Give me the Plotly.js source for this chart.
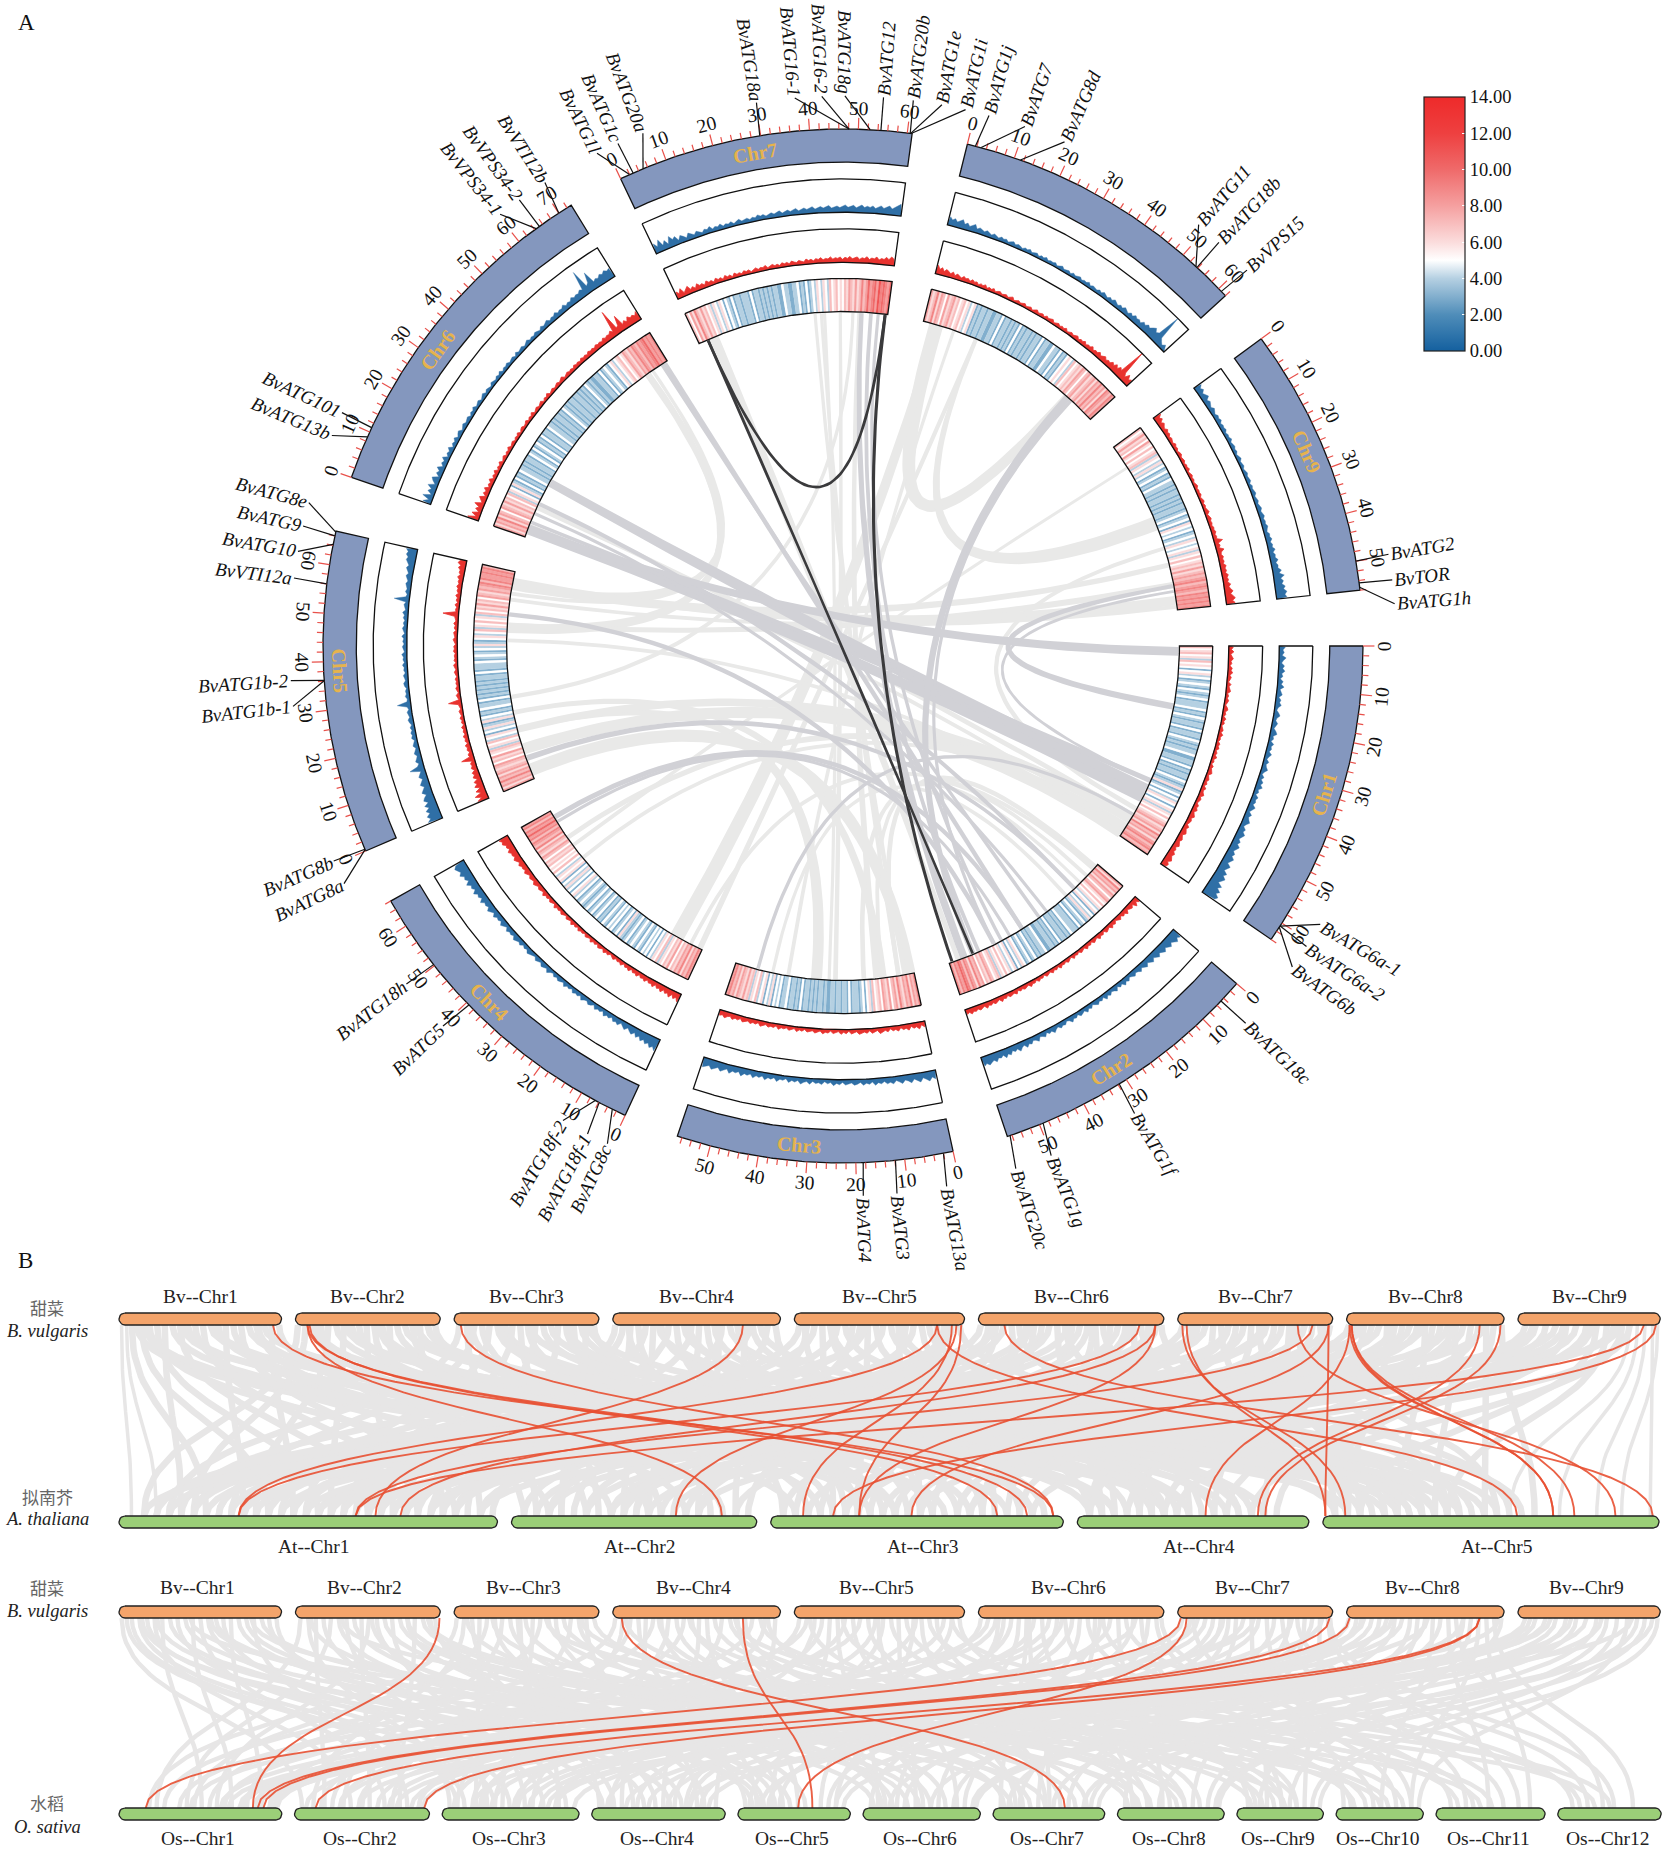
<!DOCTYPE html>
<html><head><meta charset="utf-8">
<script src="https://cdn.plot.ly/plotly-3.0.1.min.js"></script>
<style>html,body{margin:0;padding:0;background:#fff}</style></head>
<body><div id="chart" style="width:1666px;height:1851px"></div>
<script>
// ---------- DATA ----------
const bvLengths=[64,57,57,66,67,73,61,62,56];
const atLengths=[30.4,19.7,23.5,18.6,27];
const osLengths=[43.3,35.9,36.4,35.5,29.9,31.2,29.7,28.4,23,23.2,29,27.5];
const chrLabelPos=[32,31.5,31.9,37,38,32,28.3,null,25];

const heatChr1=[7,5,6,7,5,6,4,7,5,6,5,3,5,6,4,5,3,4,5,4,3,5,4,3,4,5,3,4,4,4,5,3,4,3,5,4,3,4,4,3,5,3,4,4,3,5,4,3,4,3,4,4,5,3,3,4,4,3,5,3,4,3,4,4,3,5,4,3,4,6,3,4,5,3,5,4,6,5,3,5,6,4,6,5,7,5,6,7,8,6,7,8,6,9,7,8,6,8,9,7,8,9,7,8];
const heatChr2=[8,6,9,7,8,6,8,7,5,7,8,6,5,7,5,6,4,5,6,3,5,4,6,4,3,5,4,3,5,3,4,4,4,5,3,4,3,4,4,3,5,3,4,3,4,4,3,3,5,4,4,3,4,3,5,4,3,5,4,3,5,6,4,5,3,6,5,4,6,5,7,5,6,4,7,6,5,7,8,6,7,5,8,7,9,6,8,9,7,9,10,8,9,7,9];
const heatChr3=[9,7,8,6,9,7,8,6,7,9,6,8,7,5,8,6,7,8,5,7,6,5,7,4,6,5,3,5,4,3,4,4,4,3,5,3,4,4,3,4,4,3,4,4,3,3,4,3,4,4,3,4,3,4,3,4,4,3,5,3,4,3,4,4,3,5,4,4,3,5,4,5,3,6,4,5,3,6,5,4,7,5,6,4,7,6,8,6,7,8,6,8,7,9,8];
const heatChr4=[8,9,7,8,6,9,7,8,6,7,5,8,6,7,5,6,4,7,5,6,4,5,3,5,4,5,3,4,5,3,4,5,4,3,5,4,3,4,6,3,5,4,3,5,4,5,3,4,5,3,4,3,5,4,3,5,4,3,5,4,3,4,5,4,3,5,4,6,5,3,5,4,6,4,5,3,6,5,6,4,5,7,5,6,5,7,6,7,5,7,8,6,7,8,6,9,7,8,9,7,9,8,10,8,9,7,9,8];
const heatChr5=[8,6,8,7,9,7,8,6,8,7,6,7,8,5,7,6,8,5,6,7,4,6,5,7,4,5,6,3,5,4,6,4,3,6,4,5,3,4,3,5,4,4,3,5,3,4,3,4,3,4,3,4,3,4,4,3,5,3,4,4,4,5,3,4,5,4,3,5,4,6,4,3,5,6,4,5,7,4,6,5,7,5,6,4,7,5,7,6,8,6,7,5,8,7,6,8,7,8,9,7,9,8,8,9,8,9,7];
const heatChr6=[8,6,8,7,9,6,8,7,5,8,7,6,8,6,7,5,7,4,6,5,3,6,4,3,5,3,4,3,5,4,4,3,4,3,4,4,3,5,4,3,5,3,4,5,3,4,3,5,3,4,4,3,5,4,4,3,4,3,4,4,3,4,3,5,4,3,4,3,4,4,3,4,4,3,4,3,4,3,5,4,3,4,3,3,4,4,3,5,3,4,5,4,3,5,6,4,5,6,7,5,6,8,7,6,8,7,9,8,7,9,8,9,10,8,9,8,9];
const heatChr7=[7,5,8,6,9,7,6,8,6,7,5,6,4,6,5,4,6,5,3,5,4,3,5,3,4,4,3,4,4,4,3,5,3,4,4,3,4,3,4,3,4,3,4,4,3,3,5,4,4,3,3,4,4,5,3,4,3,5,3,4,5,4,6,5,4,6,5,4,7,5,6,7,5,6,5,7,6,8,7,6,8,6,7,9,7,8,10,8,9,10,8,11,9,10,9,8,10];
const heatChr8=[8,6,7,9,6,8,7,5,8,6,7,8,6,7,5,6,7,5,6,4,5,6,3,4,3,4,4,3,4,4,3,3,4,4,3,5,3,4,4,3,4,3,4,3,5,3,4,3,4,4,3,4,3,4,4,3,5,3,4,4,3,3,5,4,4,3,5,3,4,3,5,6,5,4,7,5,6,7,6,8,7,5,7,8,6,7,8,6,8,7,9,7,8,6,9,8,7,9,8];
const heatChr9=[7,5,6,8,6,7,5,8,6,5,7,5,6,7,4,6,5,4,6,4,5,3,4,5,3,4,3,5,4,4,3,4,3,4,4,3,4,3,4,3,4,4,3,4,5,3,4,5,3,6,5,4,5,3,4,5,4,6,5,4,5,6,4,6,5,7,5,6,7,6,8,6,7,8,7,8,9,7,8,9,8,7,9,8,9,8,9,8,9];

const blueChr1=[18,11,15,9,21,13,8,17,12,19,10,14,7,16,11,20,9,13,17,8,15,12,18,10,7,14,19,11,9,16,12,8,15,20,10,13,7,17,11,14,9,18,12,8,16,10,13,19,11,7,15,9,17,12,20,10,14,8,18,13,16,11,21,14,9,19,13,17,23,15,11,20,16,25,18,14,22,17,27,20,16,24,19,29,22,18,31,24,20,33,26,37,29,24,40,31,44,36,48,42];
const blueChr2=[31,24,34,27,21,30,25,19,28,22,17,26,20,15,24,18,13,22,16,12,20,14,11,18,13,9,17,12,20,10,15,8,18,12,9,16,11,19,8,14,10,17,12,7,15,10,18,9,13,16,8,14,11,19,10,7,15,12,17,9,13,20,11,15,8,18,13,10,21,14,11,19,15,23,13,17,25,15,20,14,24,18,27,16,22,19,28,21,25,30,23,28];
const blueChr3=[26,19,29,22,16,27,20,15,25,18,14,23,17,12,21,15,19,11,17,13,20,10,16,12,18,9,14,17,10,13,16,8,15,11,18,9,13,7,16,11,14,8,17,10,13,19,9,15,11,18,8,14,12,20,10,16,13,21,11,17,14,22,12,18,15,24,13,19,16,25,14,20,26,17,23,28,19,25,29];
const blueChr4=[38,28,35,24,31,21,29,18,26,15,24,19,12,22,16,10,20,14,18,9,16,12,19,8,14,11,17,7,13,16,9,12,18,8,14,11,16,7,13,10,17,8,12,15,9,14,7,11,18,9,13,16,8,12,15,7,11,14,17,9,13,8,16,11,14,19,10,15,12,18,9,14,20,11,16,13,21,12,17,24,14,19,16,26,15,22,18,28,17,24,20,31,19,27,23,34,26,31,37,29];
const blueChr5=[44,33,41,29,38,25,36,22,33,28,19,30,24,17,27,21,15,24,18,13,44,19,12,20,15,11,18,13,9,16,12,8,15,11,14,9,13,7,12,15,9,11,14,8,12,40,10,8,13,9,11,7,12,14,8,10,13,7,11,9,14,8,12,10,15,7,11,13,8,12,9,15,7,11,14,9,12,8,13,10,16,8,12,14,9,45,11,8,14,10,13,16,11,15,19,13,18,22,16,21,27,23,30,26,33];
const blueChr6=[26,10,32,8,22,14,28,9,19,25,7,18,12,23,8,16,11,21,7,14,10,18,6,13,9,16,7,12,15,6,11,14,8,10,13,6,12,9,15,7,11,13,6,10,14,7,12,9,6,13,10,7,12,8,14,6,11,9,13,7,10,12,6,14,8,11,13,7,10,15,8,12,9,14,11,8,15,10,13,17,9,14,12,18,11,15,13,20,12,17,14,22,16,20,18,25,20,78,22,28,58,20,26,22,30,25,32,26,30];
const blueChr7=[31,18,36,15,27,12,33,20,26,11,23,17,9,21,14,10,18,13,8,16,12,19,9,14,11,17,8,13,10,15,7,12,16,9,11,14,8,13,10,17,12,15,9,13,16,11,14,18,10,13,17,12,15,19,11,14,18,13,16,20,12,15,19,14,17,21,13,16,19,14,18,22,15,17,21,14,18,23,16,20,17,22,15,19,24,17,21,26,18,23,29,35];
const blueChr8=[26,18,24,16,22,27,15,21,13,19,24,12,18,15,11,17,13,9,15,12,8,14,10,13,7,11,14,8,12,10,6,11,9,13,7,10,12,6,11,8,13,7,10,9,12,6,10,13,7,9,11,6,12,8,10,13,7,11,9,14,7,12,10,8,13,9,15,11,8,14,10,17,12,9,15,11,18,13,10,17,12,20,15,18,13,22,17,25,20,28,34,24,30,100,24,16,10,18,8];
const blueChr9=[24,15,21,12,18,22,11,17,13,9,16,12,8,14,11,15,8,12,10,13,7,11,9,14,7,10,12,8,11,6,10,13,7,9,11,6,10,12,8,9,12,6,11,8,10,13,7,9,12,8,11,14,9,12,15,10,13,11,16,12,9,15,13,18,11,16,13,20,12,17,15,22,14,19,17,26,18,32,20,27,21,30,24,33,26,31];

const redChr1=[13,8,15,6,11,14,7,10,5,12,9,14,6,11,8,4,12,7,10,13,5,9,6,11,8,4,10,13,6,9,5,12,7,10,4,8,11,6,13,7,9,5,11,8,12,5,10,7,13,6,9,4,11,8,10,14,6,9,12,7,11,5,13,8,10,15,7,12,9,6,13,10,15,8,12,16,9,13,11,7,15,10,14,17,9,12,16,11,14,18,10,15,12,19,14,17,22,13,20,17];
const redChr2=[19,11,22,9,16,13,8,18,10,14,7,15,11,6,13,9,16,7,11,14,5,12,9,15,6,10,13,5,11,8,14,6,9,12,5,10,7,13,4,9,12,6,10,8,14,5,11,7,13,6,9,12,4,10,8,13,6,11,9,15,7,10,13,8,12,6,15,9,11,14,7,13,10,17,8,12,15,9,14,11,18,9,13,16,10,15,12,18,11,15];
const redChr3=[17,9,20,12,15,8,18,11,14,7,16,10,13,6,14,9,12,17,7,11,14,6,13,9,11,15,7,10,13,5,12,8,14,6,10,12,5,11,9,14,6,10,13,7,9,12,5,11,8,14,6,10,13,7,11,9,15,6,12,10,14,8,11,16,7,13,10,15,9,12,16,8,14,11,17,10,13,19,12,16];
const redChr4=[26,15,22,12,24,14,19,11,21,13,17,9,19,12,15,8,17,11,14,7,16,10,13,6,15,9,12,5,14,8,11,6,13,9,5,12,8,14,6,10,13,5,11,7,14,6,9,12,5,10,8,13,5,11,7,14,6,9,12,5,10,13,7,11,8,15,6,10,13,7,12,9,16,8,11,14,9,13,17,10,12,15,9,14,18,11,15,13,19,12,16,22,14,19,17,24,15,21,18,27,23,30];
const redChr5=[33,18,36,14,28,12,26,16,23,10,21,14,19,9,17,12,15,8,38,11,14,7,13,10,15,6,12,9,14,7,11,8,13,5,10,7,12,6,9,11,5,8,10,38,6,9,12,5,8,11,6,9,7,10,5,8,11,6,9,12,5,10,7,9,6,11,8,10,5,9,12,7,8,11,5,10,7,12,6,9,11,46,8,10,7,13,6,11,8,14,7,12,10,15,9,13,11,17,10,15,13,20,14,24,19];
const redChr6=[34,10,26,7,20,12,28,8,15,22,6,16,10,19,7,13,9,17,6,12,8,15,5,11,7,14,5,9,12,5,10,7,13,6,8,11,5,10,7,12,4,9,11,6,8,12,5,10,7,13,5,8,11,6,9,12,4,10,7,13,5,9,11,6,8,12,7,10,14,6,9,12,8,11,7,13,9,12,8,14,10,13,9,15,11,14,10,16,12,15,11,18,13,17,15,22,14,80,18,22,50,16,24,16,28,20,24,18,28];
const redChr7=[22,13,26,10,18,24,11,17,9,20,12,15,8,18,11,14,7,16,10,13,6,15,9,12,5,14,8,11,6,13,9,12,5,10,13,7,11,9,14,6,10,13,8,11,6,13,9,12,7,14,10,8,13,11,7,15,10,13,8,14,11,16,9,13,11,17,10,14,12,16,9,15,12,18,11,14,17,10,15,13,19,11,16,14,20,12,17,15,22,16,25,19];
const redChr8=[26,15,22,12,20,16,11,18,9,16,12,8,15,10,13,7,14,9,12,6,11,8,13,5,10,7,12,5,9,11,6,8,10,5,9,12,4,8,10,6,9,11,5,8,10,4,9,12,6,8,10,5,11,7,9,12,5,8,11,6,10,7,12,5,9,11,7,10,13,6,11,9,14,7,12,10,16,8,13,11,17,10,14,18,11,16,13,21,15,24,16,26,20,100,24,14,28,16,22];
const redChr9=[24,14,20,10,17,12,8,15,10,13,7,11,9,6,12,8,10,5,9,11,6,8,10,5,9,7,11,4,8,10,6,9,5,8,11,6,9,7,10,5,8,11,6,9,7,10,13,6,9,12,8,10,7,11,9,13,8,11,9,25,10,14,9,22,12,10,15,11,14,10,17,12,15,11,18,13,16,12,20,14,18,24,16,21,28,19,26];

const lightLinks=[[6,66,1.3,5,49,3.2],[6,65,1,5,60,1.2],[6,67.5,1,5,62.5,2.8],[8,4.2,4.5,8,52,3],[8,17.6,1.2,9,27.6,4.5],[9,7.8,.9,4,53,1.2],[9,41.5,1.5,5,63,3],[9,48,2,5,50,1.5],[9,53,3,5,64,2],[9,55,1.2,5,58,1.2],[4,8.9,4.5,8,4.5,2.5],[4,.8,1.8,8,17.5,1.2],[3,31,3.5,5,16.5,1.5],[3,10,2.5,5,22,1.5],[3,1.3,3.5,5,3,4],[3,5,1.2,7,40,1],[3,12,2,7,52,1.2],[3,3,1.5,7,38,1],[3,25,1.5,7,46,1],[3,40,1.2,8,10,1],[4,48,1.2,1,60,1.2],[4,56,1.5,1,56.6,2.2],[5,16.5,2.2,1,58,2.8],[5,10,3.5,1,63,3.5],[5,27,1.4,7,50,1],[5,45,1.2,1,62,1.2],[6,10,1.4,1,56.6,1.5],[6,3.8,1.2,1,61,1.2],[2,5,1.2,3,10,1.2],[7,5,3.2,2,54,1.5],[2,2,1.2,4,4,1.2],[7,41,1,3,27,1],[2,1,1.4,3,5,1.5],[1,54,1.5,9,36,1.2],[2,8,1,3,16,1.5],[2,14,1.2,3,45,1]];
const grayLinks=[[6,72,1.4,2,31.5,1.4],[6,18.9,2.5,1,47.8,5],[6,11.4,1.3,2,10.6,1.3],[6,2.6,3.2,1,50,3],[6,5,1.1,1,44,1.6],[5,53.3,1.4,2,41.6,1.4],[5,6.9,1.8,2,10.6,1],[4,63.7,1.6,2,31.5,1.3],[4,62,1,2,36,1],[3,49.8,1.1,1,56,1],[1,1.7,2.8,6,2.6,2],[1,19.3,2,9,48.3,1.3],[1,44,.9,9,50,.9],[8,52,2.2,2,49,1.8],[8,53.5,1,2,41.6,1],[7,52.7,1.4,2,52,2.4],[7,55.7,1.2,2,47,1.2],[7,58,1,2,39,1.1],[6,8,1,2,22,1],[6,71,1.1,2,25,1.1]];
const darkLinks=[[7,3,.85,7,60.2,.85],[7,3,.85,2,49,.85],[7,60.2,1,2,56,.95]];

const geneNames=['BvATG6a-1','BvATG6a-2','BvATG6b','BvATG18c','BvATG1f','BvATG1g','BvATG20c','BvATG13a','BvATG3','BvATG4','BvATG8c','BvATG18f-1','BvATG18f-2','BvATG5','BvATG18h','BvATG8b','BvATG8a','BvATG1b-1','BvATG1b-2','BvVTI12a','BvATG10','BvATG9','BvATG8e','BvATG13b','BvATG101','BvVPS34-1','BvVPS34-2','BvVTI12b','BvATG1l','BvATG1c','BvATG20a','BvATG18a','BvATG16-1','BvATG16-2','BvATG18g','BvATG12','BvATG20b','BvATG1e','BvATG1i','BvATG1j','BvATG7','BvATG8d','BvATG11','BvATG18b','BvVPS15','BvATG2','BvTOR','BvATG1h'];
const geneChrs=[1,1,1,2,2,2,2,3,3,3,4,4,4,4,4,5,5,5,5,5,5,5,5,6,6,6,6,6,7,7,7,7,7,7,7,7,7,7,7,8,8,8,8,8,8,9,9,9];
const genePos=[60.7,60.7,61,4.8,31.7,49.2,56.4,2,11.9,18.5,2.9,5.9,6.8,39.3,50.3,.4,.3,36.1,36.2,56,64.2,66,66.8,8.9,11,64.4,65.2,70,2,2.8,5,29.8,48.1,48.1,52.4,54.6,60.6,60.7,60.8,1.7,2.9,11.3,53.5,53.8,60.8,50,54.5,55.4];
const geneLabelDeg=[30.4,33.1,35.7,43.3,58.2,67.9,71.8,79.2,84.4,87.9,115.2,117.5,120.4,136.3,142.1,157,154.4,173.7,176.4,187.1,189.9,192.6,195.1,202.5,205.1,231.7,234.2,237.4,243.6,246,248.8,261,265,267.8,270.2,274.2,277.3,280.3,282.8,285.3,289.2,293.6,310,312.8,316.9,350.4,353.1,355.6];

const grayAtBv1=[[5,1,7],[7,3,2],[9,1,12],[12,2,3],[15,1,16],[18,1,5],[21,3,8],[24,1,20],[27,4,3],[30,2,8],[33,1,24],[36,5,5],[39,3,14],[42,1,10],[45,2,14],[48,1,27],[51,4,9],[54,3,19],[57,5,11],[60,1,14],[63,2,17]];
const grayAtBv2=[[1,1,2],[4,1,6],[7,3,4],[10,2,1],[13,1,11],[16,4,1],[19,1,17],[22,5,2],[25,3,10],[28,1,22],[31,2,6],[34,4,7],[37,1,26],[40,3,16],[43,5,8],[46,2,12],[49,1,29],[52,4,12],[55,3,21]];
const grayAtBv3=[[2,1,4],[5,2,2],[8,1,9],[11,3,3],[14,1,15],[17,4,2],[20,5,1],[23,1,19],[26,2,7],[29,3,9],[32,1,23],[35,4,6],[38,5,7],[41,1,28],[44,3,15],[47,2,16],[50,4,11],[53,5,13],[55,3,22]];
const grayAtBv4=[[1,1,5],[4,1,10],[7,2,4],[10,3,1],[13,1,13],[16,2,9],[19,4,4],[22,1,18],[25,3,6],[28,5,3],[31,1,21],[34,2,11],[37,3,11],[40,4,8],[43,1,25],[46,5,9],[49,3,17],[52,2,18],[55,4,13],[58,5,14],[61,1,30],[64,3,20]];
const grayAtBv5=[[2,1,6],[5,2,5],[8,1,8],[11,3,5],[14,4,1],[17,1,12],[20,5,4],[23,2,10],[26,1,15],[29,3,7],[32,4,5],[35,1,20],[38,5,6],[41,3,12],[44,2,13],[47,1,24],[50,4,10],[53,5,12],[56,3,18],[59,2,19],[62,1,27],[65,5,16]];
const grayAtBv6=[[1,1,3],[4,2,1],[7,3,2],[10,1,9],[13,4,2],[16,5,2],[19,1,14],[22,3,4],[25,2,6],[28,1,18],[31,4,3],[34,5,5],[37,3,8],[40,1,22],[43,2,10],[46,4,6],[49,5,8],[52,3,13],[55,1,26],[58,2,15],[61,4,9],[64,5,11],[67,3,19],[70,1,29],[72,5,15]];
const grayAtBv7=[[2,1,7],[5,3,1],[8,2,2],[11,1,11],[14,4,1],[17,5,1],[20,1,16],[23,3,6],[26,2,8],[29,4,5],[32,5,3],[35,1,21],[38,3,10],[41,2,14],[44,4,11],[47,5,10],[50,1,25],[53,3,15],[56,5,14],[59,4,15],[60,2,18]];
const grayAtBv8=[[1,1,4],[4,3,3],[7,4,1],[10,2,3],[13,1,10],[16,5,2],[19,4,4],[22,3,7],[25,1,17],[28,2,9],[31,5,6],[34,4,7],[37,3,11],[40,1,23],[43,5,9],[46,2,13],[49,4,12],[52,3,16],[55,5,13],[58,4,16],[61,5,17]];
const grayAtBv9=[[3,1,25],[7,2,8],[11,3,6],[15,1,16],[19,4,8],[23,2,15],[27,3,16],[31,5,3],[35,5,10],[38,1,29],[41,4,14],[44,3,21]];
const grayAtExtra=[[1,10,3,10],[1,25,4,7],[1,38,5,2],[1,55,2,11],[2,8,4,3],[2,20,5,6],[2,33,3,13],[2,48,4,15],[2,52,5,9],[3,7,3,5],[3,18,4,9],[3,30,5,11],[3,45,4,13],[3,52,2,4],[4,6,3,7],[4,18,5,7],[4,30,4,14],[4,42,2,15],[4,54,1,8],[5,4,3,12],[5,15,4,7],[5,28,1,3],[5,42,5,10],[5,60,1,17],[6,6,1,6],[6,20,2,3],[6,35,1,12],[6,45,3,17],[6,60,2,9],[6,68,1,19],[7,7,1,4],[7,20,2,12],[7,33,1,18],[7,46,3,20],[7,58,1,27],[8,6,1,2],[8,18,2,6],[8,30,1,13],[8,42,3,9],[8,54,1,20],[9,6,1,15],[9,18,2,11],[9,29,3,12],[9,40,1,22]];
const grayAtEdge=[[1,1,1,1],[1,3,1,3],[9,47,5,19],[9,50,5,22],[9,53,5,26.3],[9,55,5,24],[9,44,5,15]];

const grayOsBv1=[[1,2,2],[3,3,4],[5,3,6],[8,3,14],[11,4,3],[14,2,15],[17,1,22],[20,5,4],[23,3,18],[26,6,3],[29,1,30],[32,2,24],[35,4,14],[38,7,5],[41,3,27],[44,1,38],[47,5,14],[50,6,12],[53,2,30],[56,8,6],[59,4,24],[62,3,33]];
const grayOsBv2=[[2,1,10],[5,3,2],[8,2,8],[11,4,6],[14,1,18],[17,5,7],[20,3,12],[23,6,8],[26,2,20],[29,1,26],[32,4,17],[35,7,10],[38,3,22],[41,8,3],[44,5,18],[47,2,28],[50,9,4],[53,6,18],[55,4,30]];
const grayOsBv3=[[1,1,8],[4,2,5],[7,4,2],[10,3,9],[13,1,20],[16,5,2],[19,2,13],[22,6,5],[25,4,11],[28,7,3],[31,3,16],[34,1,34],[37,8,9],[40,5,12],[43,9,7],[46,2,26],[49,6,22],[52,4,28],[55,10,5]];
const grayOsBv4=[[1,1,12],[4,3,4],[7,2,10],[10,5,5],[13,4,8],[16,1,24],[19,6,6],[22,3,14],[25,7,8],[28,2,18],[31,8,5],[34,4,19],[37,5,16],[40,9,10],[43,3,24],[46,10,8],[49,6,16],[52,7,18],[55,1,40],[58,11,6],[61,8,18],[64,4,33]];
const grayOsBv5=[[2,2,7],[5,1,16],[8,4,5],[11,3,11],[14,5,9],[17,6,4],[20,2,17],[23,7,6],[26,1,28],[29,8,8],[32,3,20],[35,4,22],[38,9,5],[41,6,14],[44,10,4],[47,5,22],[50,7,14],[53,11,10],[56,8,14],[59,2,33],[62,12,6],[65,9,16]];
const grayOsBv6=[[1,3,3],[4,1,19],[7,2,12],[10,5,3],[13,4,12],[16,6,9],[19,7,2],[22,3,19],[25,8,4],[28,2,22],[31,5,11],[34,9,3],[37,4,26],[40,6,20],[43,10,10],[46,7,12],[49,11,4],[52,3,30],[55,8,12],[58,12,4],[61,5,24],[64,9,12],[67,6,27],[70,10,16],[72,11,18]];
const grayOsBv7=[[2,2,3],[5,4,4],[8,1,27],[11,3,13],[14,5,8],[17,6,11],[20,7,7],[23,8,2],[26,2,25],[29,9,8],[32,4,20],[35,10,2],[38,6,24],[41,11,8],[44,7,20],[47,12,8],[50,8,20],[53,5,26],[56,9,18],[59,11,22],[60,12,15]];
const grayOsBv8=[[1,3,8],[4,5,6],[7,1,32],[10,4,15],[13,6,7],[16,2,31],[19,7,4],[22,3,26],[25,8,11],[28,9,6],[31,6,18],[34,10,12],[37,7,16],[40,11,14],[43,12,12],[46,8,24],[49,9,14],[52,10,20],[55,11,25],[58,12,20],[61,7,26]];
const grayOsBv9=[[3,1,41],[7,3,35],[11,2,34],[15,4,31],[19,5,28],[23,6,29],[27,3,28],[31,7,24],[35,8,26],[39,9,20],[43,10,22],[47,7,28],[50,8,27],[53,6,30],[55,9,22]];
const grayOsExtra=[[1,9,4,21],[1,15,5,6],[1,28,10,12],[1,36,7,14],[1,52,9,13],[2,6,6,15],[2,18,11,12],[2,30,5,10],[2,44,8,16],[2,52,10,14],[3,5,7,22],[3,15,8,18],[3,26,3,31],[3,36,12,10],[3,50,11,15],[4,5,9,16],[4,18,7,25],[4,30,10,18],[4,48,12,14],[4,60,3,8],[5,6,8,22],[5,19,9,12],[5,33,6,25],[5,48,3,10],[5,62,4,25],[6,8,5,26],[6,20,7,15],[6,33,2,33],[6,48,6,2],[6,62,1,36],[7,6,10,20],[7,18,4,29],[7,30,1,40],[7,45,3,20],[7,57,2,12],[8,6,3,23],[8,18,1,42],[8,32,2,17],[8,46,4,9],[8,60,1,29],[9,5,2,27],[9,13,1,33],[9,21,3,30],[9,33,4,26],[9,45,1,37]];

const redAt=[[1,60.6,3,22.7],[2,4.7,2,16.9],[2,4.7,3,20.6],[2,5.5,3,18.2],[3,2.6,3,22.7],[4,51.2,1,20.6],[5,56.2,1,9.6],[5,56.2,5,15.6],[5,63.8,2,13.2],[5,65.7,3,7.1],[6,10.2,5,26.5],[6,63.4,1,9.6],[7,53.1,1,19],[6,69.7,1,22.6],[6,69.7,3,7.1],[7,1.8,5,1.8],[7,3.5,5,.2],[7,47.2,5,23.5],[7,59.4,5,.2],[7,59.4,3,11.3],[8,1.2,4,10.3],[8,1.2,5,18.5],[8,2,5,18.5],[8,2,5,20.2],[8,52.4,4,14.5],[8,60.6,4,15.1],[9,49.6,1,19],[9,54.3,3,5],[5,62,3,2.6]];
const redOs=[[2,56.7,1,35.6],[4,3.5,7,19.1],[4,51.2,5,19.8],[7,1.2,1,7.1],[7,3.5,5,16],[7,59.8,1,36.9],[8,1.2,1,38.4],[8,52.4,2,5.6],[8,52.4,2,34.5]];

const cbTicks=[0,2,4,6,8,10,12,14];
const heatStops=[[0,'#14609f'],[2,'#4f8db9'],[4,'#b5d0e2'],[5,'#ffffff'],[6,'#fbdcdc'],[8,'#f5a0a0'],[10,'#ef6a6a'],[12,'#ee4040'],[14,'#ee2a2a']];

// ---------- GEOMETRY ----------
const CX=843,CY=646,RX=520,RY=517,GAP=6.2,SERIF='"Liberation Serif"';
const total=bvLengths.reduce((a,b)=>a+b,0),DPM=(360-9*GAP)/total;
const chrStart=[];let acc=0;bvLengths.forEach(l=>{chrStart.push(acc);acc+=l*DPM+GAP;});
const rad=d=>d*Math.PI/180;
const pol=(deg,r)=>[CX+RX*r*Math.cos(rad(deg)),CY+RY*r*Math.sin(rad(deg))];
const ang=(c,mb)=>chrStart[c-1]+mb*DPM;
const R={band:[.936,1],blue:[.839,.9035],red:[.742,.807],heat:[.647,.711]};

const traces=[],annotations=[];
function lineTrace(xs,ys,color,width){traces.push({type:'scatter',mode:'lines',x:xs,y:ys,line:{color,width},hoverinfo:'skip',showlegend:false,connectgaps:false});}
function fillTrace(polys,fill,lineColor,width){
  const xs=[],ys=[];
  polys.forEach(p=>{p.forEach(q=>{xs.push(q[0]);ys.push(q[1]);});xs.push(p[0][0]);ys.push(p[0][1]);xs.push(null);ys.push(null);});
  traces.push({type:'scatter',mode:'lines',x:xs,y:ys,fill:'toself',fillcolor:fill,line:{color:lineColor||fill,width:width===undefined?0:width},hoverinfo:'skip',showlegend:false});
}
function outline(polys,color,width){
  const xs=[],ys=[];
  polys.forEach(p=>{p.forEach(q=>{xs.push(q[0]);ys.push(q[1]);});xs.push(p[0][0]);ys.push(p[0][1]);xs.push(null);ys.push(null);});
  lineTrace(xs,ys,color,width);
}
function arc(c,a,b,r,step){const pts=[];const n=Math.max(2,Math.ceil(Math.abs(b-a)/(step||.5)));for(let i=0;i<=n;i++)pts.push(pol(ang(c,a+(b-a)*i/n),r));return pts;}
function ringPoly(c,r0,r1){return arc(c,0,bvLengths[c-1],r1).concat(arc(c,bvLengths[c-1],0,r0));}
function hexToRgb(h){return [1,3,5].map(i=>parseInt(h.substr(i,2),16));}
function colorAt(v){for(let i=1;i<heatStops.length;i++){if(v<=heatStops[i][0]){const a=heatStops[i-1],b=heatStops[i],t=(v-a[0])/(b[0]-a[0]),p=hexToRgb(a[1]),q=hexToRgb(b[1]);return 'rgb('+p.map((u,k)=>Math.round(u+(q[k]-u)*t)).join(',')+')';}}return heatStops[heatStops.length-1][1];}

// ---------- LINKS ----------
const MBPX=3.16;
function ribbon(l,color){
  const [c1,p1,w1,c2,p2,w2]=l,r=.645,P=pol(ang(c1,p1),r),Q=pol(ang(c2,p2),r),left=[],right=[],N=48;
  for(let i=0;i<=N;i++){const t=i/N,u=1-t;
    const x=u*u*P[0]+2*u*t*CX+t*t*Q[0],y=u*u*P[1]+2*u*t*CY+t*t*Q[1];
    let dx=2*u*(CX-P[0])+2*t*(Q[0]-CX),dy=2*u*(CY-P[1])+2*t*(Q[1]-CY);const m=Math.hypot(dx,dy)||1;dx/=m;dy/=m;
    const hw=(w1+(w2-w1)*t)*MBPX/2;
    left.push([x-dy*hw,y+dx*hw]);right.unshift([x+dy*hw,y-dx*hw]);}
  fillTrace([left.concat(right)],color);
}
lightLinks.forEach(l=>ribbon(l,'#e9e9e8'));
grayLinks.forEach(l=>ribbon(l,'#d1d1d6'));
darkLinks.forEach(l=>ribbon(l,'#3a3a3c'));

// ---------- CIRCOS TRACKS ----------
const heatAll=[heatChr1,heatChr2,heatChr3,heatChr4,heatChr5,heatChr6,heatChr7,heatChr8,heatChr9];
const blueAll=[blueChr1,blueChr2,blueChr3,blueChr4,blueChr5,blueChr6,blueChr7,blueChr8,blueChr9];
const redAll=[redChr1,redChr2,redChr3,redChr4,redChr5,redChr6,redChr7,redChr8,redChr9];
const cx=[],cy=[],cv=[];
heatAll.forEach((arr,i)=>{const w=bvLengths[i]/arr.length;arr.forEach((v,k)=>{const p=pol(ang(i+1,(k+.5)*w),.68);cx.push(p[0]);cy.push(p[1]);cv.push(v);});});
traces.push({type:'scatter',mode:'markers',x:cx,y:cy,hoverinfo:'skip',showlegend:false,marker:{size:1,color:cv,cmin:0,cmax:14,showscale:true,
  colorscale:heatStops.map(s=>[s[0]/14,s[1]]),
  colorbar:{x:1424/1666,xanchor:'left',y:1-224/1851,yanchor:'middle',len:254,lenmode:'pixels',thickness:41,thicknessmode:'pixels',xpad:0,ypad:0,outlinecolor:'#222',outlinewidth:1.2,borderwidth:0,
    tickmode:'array',tickvals:cbTicks,ticktext:cbTicks.map(v=>v.toFixed(2)),ticks:'inside',tickcolor:'#fff',ticklen:3,tickwidth:1,tickfont:{family:SERIF,size:18.5,color:'#111'}}}});
for(let lv=0;lv<=14;lv++){
  const polys=[];
  heatAll.forEach((arr,i)=>{const w=bvLengths[i]/arr.length;arr.forEach((v,k)=>{if(v===lv){
    polys.push([pol(ang(i+1,k*w),R.heat[0]),pol(ang(i+1,k*w),R.heat[1]),pol(ang(i+1,(k+1)*w),R.heat[1]),pol(ang(i+1,(k+1)*w),R.heat[0])]);}});});
  if(polys.length)fillTrace(polys,colorAt(lv),colorAt(lv),.2);
}
function histogram(all,rr,color,lw){
  const polys=[];
  all.forEach((arr,i)=>{const c=i+1,w=bvLengths[i]/arr.length,top=[];
    arr.forEach((v,k)=>{top.push(pol(ang(c,(k+.5)*w),rr[0]+(rr[1]-rr[0])*v/100));});
    top.unshift(pol(ang(c,0),rr[0]));top.push(pol(ang(c,bvLengths[i]),rr[0]));
    polys.push(top.concat(arc(c,bvLengths[i],0,rr[0])));});
  fillTrace(polys,color,color,lw);
}
histogram(blueAll,R.blue,'#2f6fa6',.4);
histogram(redAll,R.red,'#e8322e',.8);
const ringOut=[];
for(let c=1;c<=9;c++){['blue','red','heat'].forEach(k=>ringOut.push(ringPoly(c,R[k][0],R[k][1])));}
outline(ringOut,'#111',1.3);
const bands=[];for(let c=1;c<=9;c++)bands.push(ringPoly(c,R.band[0],R.band[1]));
fillTrace(bands,'#8497be','#111',1.3);

const tx=[],ty=[];
function norm(a){a=a%360;if(a>180)a-=360;if(a<=-180)a+=360;return a;}
bvLengths.forEach((L,i)=>{const c=i+1;for(let m=0;m<=L;m+=2){const major=m%10===0,th=ang(c,m),a=pol(th,1),b=pol(th,major?1.022:1.012);
  tx.push(a[0],b[0],null);ty.push(a[1],b[1],null);
  if(major){const p=pol(th,1.041);annotations.push({x:p[0],y:p[1],text:String(m),showarrow:false,xanchor:'center',yanchor:'middle',textangle:norm(c<=5?th-90:th+90),font:{family:SERIF,size:19.5,color:'#111'}});}
}
if(chrLabelPos[i]!==null){const mid=ang(c,chrLabelPos[i]),p=pol(mid,.968);annotations.push({x:p[0],y:p[1],text:'Chr'+c,showarrow:false,xanchor:'center',yanchor:'middle',textangle:norm(c<=5?mid-90:mid+90),font:{family:SERIF,size:20,color:'#e6b34d',weight:700}});}
});
lineTrace(tx,ty,'#e8504a',1.2);

const ctx=document.createElement('canvas').getContext('2d');ctx.font='italic 19px '+SERIF;
const gx=[],gy=[];
geneNames.forEach((name,i)=>{
  const a=pol(ang(geneChrs[i],genePos[i]),1),th=geneLabelDeg[i],b=pol(th,1.064);
  gx.push(a[0],b[0],null);gy.push(a[1],b[1],null);
  const w=ctx.measureText(name).width,d=w/2+2,cxx=b[0]+Math.cos(rad(th))*d,cyy=b[1]+Math.sin(rad(th))*d;
  annotations.push({x:cxx,y:cyy,text:name,showarrow:false,xanchor:'center',yanchor:'middle',textangle:norm((th>90&&th<270.5)?th-180:th),font:{family:SERIF,size:19,color:'#111',style:'italic'}});
});
lineTrace(gx,gy,'#111',1.2);

// ---------- PANEL B ----------
function layoutRow(lengths,scale,gap){const st=[];let x=119;lengths.forEach(l=>{st.push(x);x+=l*scale+gap;});return {lengths,scale,gap,st,x:(c,m)=>st[c-1]+m*scale};}
const bvRow=layoutRow(bvLengths,2.54,13.9),atRow=layoutRow(atLengths,12.45,14),osRow=layoutRow(osLengths,3.76,12.7);
function roundBar(x0,x1,y0,y1){const r=(y1-y0)/2,ym=(y0+y1)/2,p=[];for(let i=0;i<=10;i++){const t=Math.PI/2+Math.PI*i/10;p.push([x0+r+r*Math.cos(t)*1,ym-r*Math.sin(t)]);}for(let i=0;i<=10;i++){const t=-Math.PI/2+Math.PI*i/10;p.push([x1-r+r*Math.cos(t),ym-r*Math.sin(t)]);}return p;}
function bars(row,y0,y1,color){fillTrace(row.lengths.map((l,i)=>roundBar(row.st[i],row.st[i]+l*row.scale,y0,y1)),color,'#222',1.3);}
function curves(list,rowB,yTop,yBot){const xs=[],ys=[];const ym=(yTop+yBot)/2;
  list.forEach(l=>{const x1=bvRow.x(l[0],l[1]),x2=rowB.x(l[2],l[3]);
    for(let i=0;i<=32;i++){const t=i/32,u=1-t;xs.push(u*u*u*x1+3*u*u*t*x1+3*u*t*t*x2+t*t*t*x2);ys.push(u*u*u*yTop+3*u*u*t*ym+3*u*t*t*ym+t*t*t*yBot);}
    xs.push(null);ys.push(null);});
  return [xs,ys];}
function flat(groups){const o=[];groups.forEach((g,i)=>g.forEach(e=>o.push([i+1,e[0],e[1],e[2]])));return o;}
const Y={bv1:[1313,1325],at:[1516,1528],bv2:[1606,1618],os:[1808,1820]};
let cc=curves(grayAtEdge,atRow,Y.bv1[1],Y.at[0]);lineTrace(cc[0],cc[1],'#e7e6e6',3.5);
cc=curves(flat([grayAtBv1,grayAtBv2,grayAtBv3,grayAtBv4,grayAtBv5,grayAtBv6,grayAtBv7,grayAtBv8,grayAtBv9]).concat(grayAtExtra),atRow,Y.bv1[1],Y.at[0]);lineTrace(cc[0],cc[1],'#e7e6e6',6.5);
cc=curves(redAt,atRow,Y.bv1[1],Y.at[0]);lineTrace(cc[0],cc[1],'rgba(232,80,50,.9)',1.9);
cc=curves(flat([grayOsBv1,grayOsBv2,grayOsBv3,grayOsBv4,grayOsBv5,grayOsBv6,grayOsBv7,grayOsBv8,grayOsBv9]).concat(grayOsExtra),osRow,Y.bv2[1],Y.os[0]);lineTrace(cc[0],cc[1],'#e7e6e6',4.4);
cc=curves(redOs,osRow,Y.bv2[1],Y.os[0]);lineTrace(cc[0],cc[1],'rgba(232,80,50,.9)',1.9);
bars(bvRow,Y.bv1[0],Y.bv1[1],'#f4a46b');bars(atRow,Y.at[0],Y.at[1],'#9bcf78');bars(bvRow,Y.bv2[0],Y.bv2[1],'#f4a46b');bars(osRow,Y.os[0],Y.os[1],'#9bcf78');

function label(x,y,text,extra){annotations.push(Object.assign({x,y,text,showarrow:false,xanchor:'center',yanchor:'middle',font:{family:SERIF,size:19.5,color:'#222'}},extra||{}));}
bvRow.lengths.forEach((l,i)=>{const c=bvRow.st[i]+l*bvRow.scale/2;label(c,1296,'Bv--Chr'+(i+1));label(c-3,1587,'Bv--Chr'+(i+1));});
atRow.lengths.forEach((l,i)=>label(atRow.st[i]+l*atRow.scale/2+6,1546,'At--Chr'+(i+1)));
osRow.lengths.forEach((l,i)=>label(osRow.st[i]+l*osRow.scale/2-2,1838,'Os--Chr'+(i+1)));
const cjk={family:'"Noto Sans CJK SC"',size:17,color:'#666'},ital={family:SERIF,size:18.5,color:'#222',style:'italic'};
label(47,1307,'甜菜',{font:cjk});label(47,1331,'B. vulgaris',{font:ital});
label(47,1496,'拟南芥',{font:cjk});label(47,1519,'A. thaliana',{font:ital});
label(47,1587,'甜菜',{font:cjk});label(47,1611,'B. vulgaris',{font:ital});
label(47,1802,'水稻',{font:cjk});label(47,1827,'O. sativa',{font:ital});
label(26,22,'A',{font:{family:SERIF,size:23,color:'#111'}});
label(25,1260,'B',{font:{family:SERIF,size:23,color:'#111'}});

Plotly.newPlot('chart',traces,{width:1666,height:1851,margin:{l:0,r:0,t:0,b:0,autoexpand:false},paper_bgcolor:'#fff',plot_bgcolor:'#fff',showlegend:false,
  xaxis:{range:[0,1666],visible:false,fixedrange:true},yaxis:{range:[1851,0],visible:false,fixedrange:true},annotations},{staticPlot:true,displayModeBar:false});
</script></body></html>
